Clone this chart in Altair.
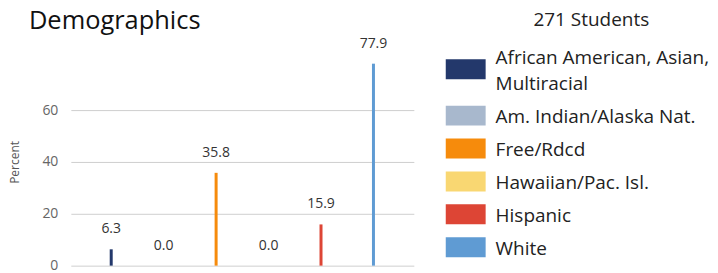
import altair as alt
import pandas as pd

categories = ["African American, Asian, Multiracial", "Am. Indian/Alaska Nat.", "Free/Rdcd",
              "Hawaiian/Pac. Isl.", "Hispanic", "White"]
legend_labels = ["African American, Asian,\nMultiracial", "Am. Indian/Alaska Nat.", "Free/Rdcd",
                 "Hawaiian/Pac. Isl.", "Hispanic", "White"]
values = [6.3, 0.0, 35.8, 0.0, 15.9, 77.9]
colors = ["#23386b", "#a8b8cd", "#f68b0c", "#f9d772", "#dd4535", "#5f9bd3"]
labels = [f"{v:.1f}" for v in values]

FONT = "Open Sans"
PLOT_H = 208
ROW_PX = 33
LINE_PX = 26

df = pd.DataFrame({"cat": categories, "val": values, "lbl": labels})

# legend rows: stacked by number of text lines
n_lines = [s.count("\n") + 1 for s in legend_labels]
row_h = [1 + 0.82 * (n - 1) for n in n_lines]
centers, acc = [], 0.0
for h in row_h:
    centers.append(acc + h / 2)
    acc += h
text_pos = [c - (n - 1) * (LINE_PX / 2) / ROW_PX + 1.5 / ROW_PX for c, n in zip(centers, n_lines)]
leg = pd.DataFrame({"cat": categories, "txt": legend_labels, "pos": centers, "tpos": text_pos})
top_unit = centers[0] - 11 / ROW_PX
leg_domain = [top_unit, top_unit + PLOT_H / ROW_PX]

color_scale = alt.Scale(domain=categories, range=colors)

x = alt.X("cat:N", sort=categories, axis=None,
          scale=alt.Scale(paddingInner=0, paddingOuter=0.27))

bars = alt.Chart(df).mark_bar(size=3).encode(
    x=x,
    y=alt.Y("val:Q", title="Percent",
            scale=alt.Scale(domain=[0, 80]),
            axis=alt.Axis(values=[0, 20, 40, 60], domain=False, ticks=False,
                          labelPadding=13, gridColor="#cfcfcf", labelColor="#666",
                          labelFontSize=14, titleFontSize=12, titleFontWeight="normal",
                          titleColor="#555", titlePadding=20)),
    color=alt.Color("cat:N", scale=color_scale, legend=None),
)

text = alt.Chart(df).mark_text(dy=-20, fontSize=14, color="#333", font=FONT).encode(
    x=x, y="val:Q", text="lbl:N")

left = (bars + text).properties(
    width=344, height=PLOT_H,
    title=alt.Title("Demographics", anchor="start", frame="group", dx=-42, dy=49,
                    baseline="alphabetic", fontSize=25.5, fontWeight=500,
                    color="#111", offset=31),
)

ly = alt.Scale(domain=leg_domain, reverse=True, nice=False, zero=False)

swatch = alt.Chart(leg).mark_point(
    shape="M-1,-0.5h2v1h-2z", size=1600, filled=True, opacity=1, strokeWidth=0
).encode(
    x=alt.value(20), y=alt.Y("pos:Q", axis=None, scale=ly),
    color=alt.Color("cat:N", scale=color_scale, legend=None),
)

leg_text = alt.Chart(leg).mark_text(
    align="left", baseline="middle", lineBreak="\n", fontSize=19, lineHeight=LINE_PX,
    color="#222", font=FONT
).encode(x=alt.value(50), y=alt.Y("tpos:Q", axis=None, scale=ly), text="txt:N")

right = (swatch + leg_text).properties(
    width=262, height=PLOT_H,
    title=alt.Title("271 Students", anchor="middle", dx=15, dy=30, baseline="alphabetic",
                    fontSize=19, fontWeight="normal", color="#222", offset=34),
)

chart = alt.hconcat(left, right, spacing=32).properties(
    padding=0
).configure(font=FONT).configure_view(stroke=None)

chart.save("out.html", embed_options={"renderer": "svg", "actions": False})
